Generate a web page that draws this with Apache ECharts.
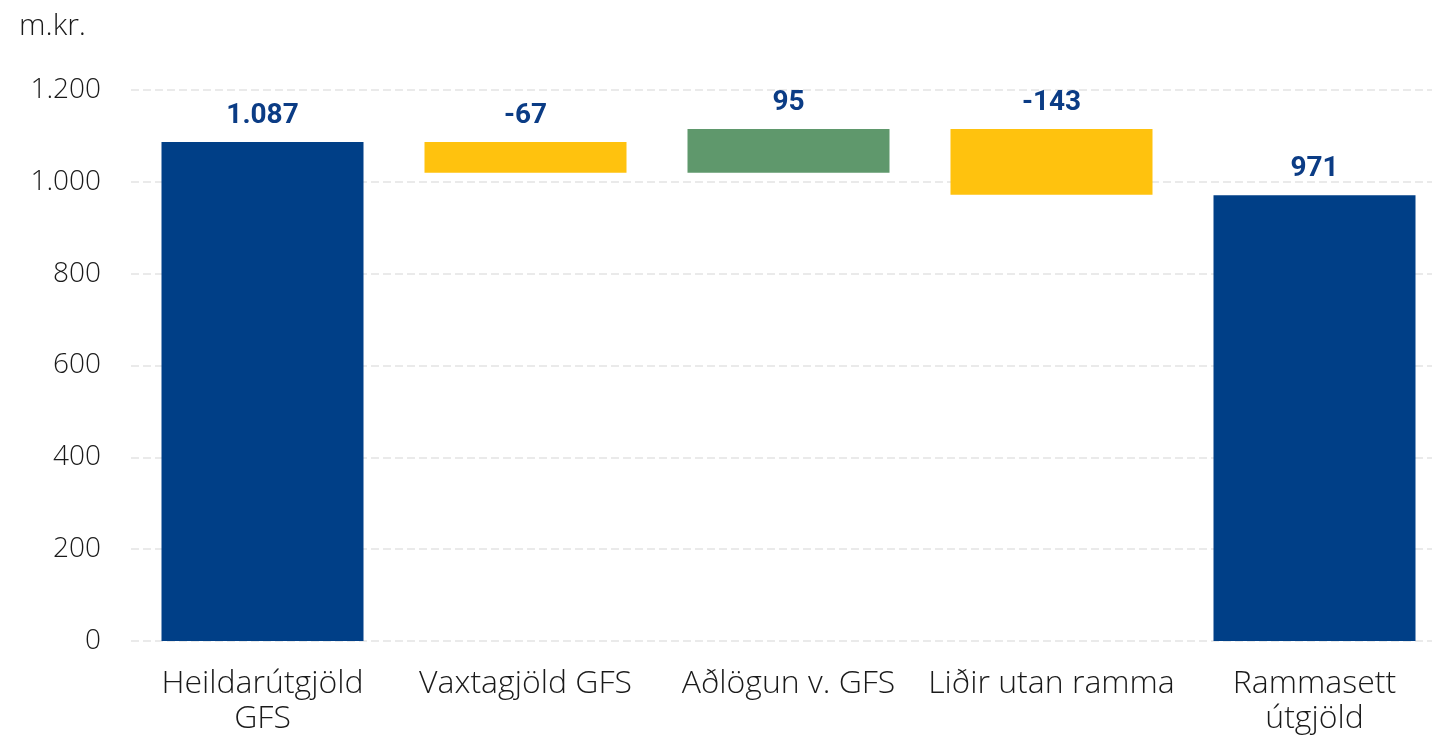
<!DOCTYPE html>
<html>
<head>
<meta charset="utf-8">
<script src="https://cdn.jsdelivr.net/npm/echarts@6/dist/echarts.min.js"></script>
<style>
  html, body { margin: 0; padding: 0; background: #fff; overflow: hidden; }
  #main { width: 1450px; height: 737px; }
</style>
</head>
<body>
<div id="main"></div>
<script>
// flokkar og breytingar (m.kr.)
var categories = ['Heildarútgjöld\nGFS', 'Vaxtagjöld GFS', 'Aðlögun v. GFS', 'Liðir utan ramma', 'Rammasett\nútgjöld'];
var changes = [1087, -67, 95, -143, 971];
var isTotal = [true, false, false, false, true];
var barColors = ['#003f87', '#ffc20e', '#5f986c', '#ffc20e', '#003f87'];

// byggja grunn og sýnilegar súlur fyrir fossarit
var baseData = [];
var barData = [];
var running = 0;
for (var i = 0; i < changes.length; i++) {
  if (isTotal[i]) {
    baseData.push(0);
    barData.push(changes[i]);
    running = changes[i];
  } else {
    var next = running + changes[i];
    baseData.push(Math.min(running, next));
    barData.push(Math.abs(changes[i]));
    running = next;
  }
}

function fmt(v) {
  var s = Math.abs(v).toString().replace(/\B(?=(\d{3})+(?!\d))/g, '.');
  return (v < 0 ? '-' : '') + s;
}

var fontFam = '"Open Sans", Roboto, sans-serif';
var chart = echarts.init(document.getElementById('main'));
chart.setOption({
  animation: false,
  graphic: [{
    type: 'text', left: 19, top: 11,
    style: { text: 'm.kr.', font: '300 30px ' + fontFam, fill: '#1a1a1a' }
  }],
  grid: { left: 131, top: 90, bottom: 96, right: 4 },
  xAxis: {
    type: 'category',
    data: categories,
    axisLine: { show: false },
    axisTick: { show: false },
    axisLabel: { fontSize: 32, fontWeight: 300, fontFamily: fontFam, color: '#1a1a1a', margin: 25, lineHeight: 35, interval: 0 }
  },
  yAxis: {
    type: 'value',
    min: 0, max: 1200, interval: 200,
    axisLine: { show: false },
    axisTick: { show: false },
    splitLine: { lineStyle: { color: '#e3e3e3', type: [8, 4], width: 1.5 } },
    axisLabel: { fontSize: 28, fontWeight: 300, fontFamily: fontFam, color: '#1a1a1a', margin: 30, formatter: fmt }
  },
  series: [{
    type: 'bar',
    stack: 'w',
    data: baseData,
    barWidth: 202,
    itemStyle: { color: 'transparent' },
    silent: true
  }, {
    type: 'bar',
    stack: 'w',
    barWidth: 202,
    data: barData.map(function (v, i) {
      return { value: v, itemStyle: { color: barColors[i] } };
    }),
    label: {
      show: true,
      position: 'top',
      distance: 12,
      fontSize: 28,
      fontWeight: 'bold',
      fontFamily: 'Roboto, sans-serif',
      color: '#0b3c85',
      formatter: function (p) { return fmt(changes[p.dataIndex]); }
    }
  }]
});
</script>
</body>
</html>
